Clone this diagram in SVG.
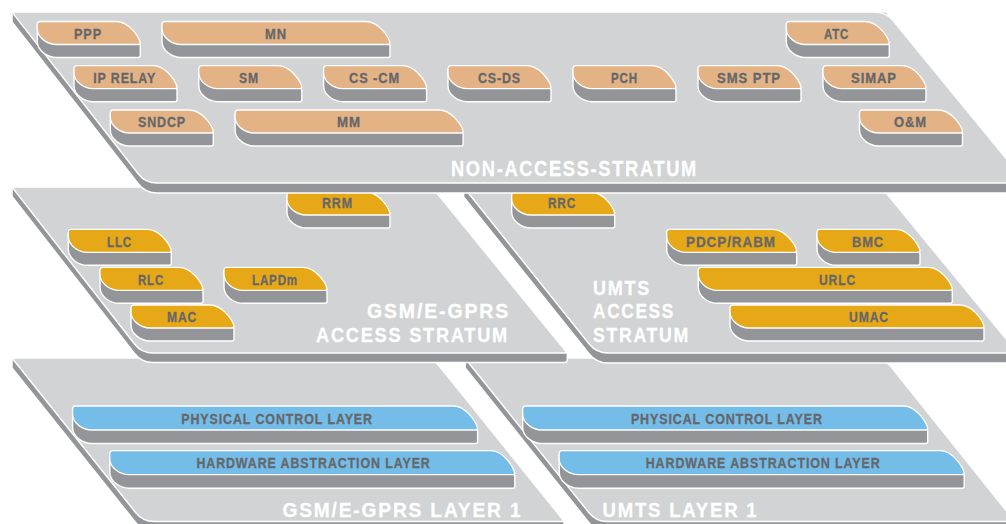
<svg xmlns="http://www.w3.org/2000/svg" xmlns:xlink="http://www.w3.org/1999/xlink" width="1006" height="524" viewBox="0 0 1006 524">
<style>
.pf{fill:#d1d3d4;stroke:#fff;stroke-width:1.5}
.pd{fill:#939598;stroke:#fff;stroke-width:1.5}
.bd{fill:#939598;stroke:#fff;stroke-width:1.4}
.tan{fill:#e3b385;stroke:#fff;stroke-width:1.3}
.gold{fill:#e6a817;stroke:#fff;stroke-width:1.3}
.blue{fill:#74bde9;stroke:#fff;stroke-width:1.3}
.bl{font-family:"Liberation Sans",Arial,sans-serif;font-weight:bold;font-size:14px;fill:#66676a;stroke:#66676a;stroke-width:0.3;letter-spacing:1px}
.pl{font-family:"Liberation Sans",Arial,sans-serif;font-weight:bold;font-size:21px;fill:#fff;stroke:#fff;stroke-width:0.3;letter-spacing:2px}
</style>
<defs>
<path id="f103" d="M0,3 q0,-3 3,-3 h76 c12,0 22,14 24,21 q0,2 -2,2 h-82 c-9,0 -19,-7 -19,-16z"/>
<path id="d103" d="M0,3 v17 c0,9 10,16 19,16 h82 q2,0 2,-2 v-10 c-2,-7 -12,-21 -24,-21 h-76 q-3,0 -3,3z"/>
<path id="f228" d="M0,3 q0,-3 3,-3 h201 c12,0 22,14 24,21 q0,2 -2,2 h-207 c-9,0 -19,-7 -19,-16z"/>
<path id="d228" d="M0,3 v17 c0,9 10,16 19,16 h207 q2,0 2,-2 v-10 c-2,-7 -12,-21 -24,-21 h-201 q-3,0 -3,3z"/>
<path id="f130" d="M0,3 q0,-3 3,-3 h103 c12,0 22,14 24,21 q0,2 -2,2 h-109 c-9,0 -19,-7 -19,-16z"/>
<path id="d130" d="M0,3 v17 c0,9 10,16 19,16 h109 q2,0 2,-2 v-10 c-2,-7 -12,-21 -24,-21 h-103 q-3,0 -3,3z"/>
<path id="f254" d="M0,3 q0,-3 3,-3 h227 c12,0 22,14 24,21 q0,2 -2,2 h-233 c-9,0 -19,-7 -19,-16z"/>
<path id="d254" d="M0,3 v17 c0,9 10,16 19,16 h233 q2,0 2,-2 v-10 c-2,-7 -12,-21 -24,-21 h-227 q-3,0 -3,3z"/>
<path id="f405" d="M0,3 q0,-3 3,-3 h378 c12,0 22,15 24,22 q0,2 -2,2 h-384 c-9,0 -19,-7 -19,-16z"/>
<path id="d405" d="M0,3 v18.5 c0,9 10,16 19,16 h384 q2,0 2,-2 v-10.5 c-2,-7 -12,-22 -24,-22 h-378 q-3,0 -3,3z"/>
</defs>

<!-- Layer 1 plates -->
<g id="gsm-layer1">
<path class="pd" d="M12,358 V368 L135.6,522.5 Q142.8,531.5 154,531.5 H561.5 Q564,531.5 564,529 V521.5 L432.8,358 Z"/>
<path class="pf" d="M15,358 H421 Q432.8,358 439.2,366 L562.8,519.5 Q564,521.5 561.5,521.5 H154 Q142.8,521.5 135.6,512.5 L14,360.5 Q12,358 15,358 Z"/>
<text class="pl" x="282.4" y="516.7" textLength="240" lengthAdjust="spacingAndGlyphs">GSM/E-GPRS LAYER 1</text>
</g>
<g id="umts-layer1">
<path class="pd" d="M465.2,358 V368 L588.8,522.5 Q596,531.5 607,531.5 H1014.9 V521.5 L884.1,358 Z"/>
<path class="pf" d="M468.2,358 H872 Q884.1,358 890.5,366 L1014.9,521.5 H607 Q596,521.5 588.8,512.5 L466.8,360.5 Q465.2,358 468.2,358 Z"/>
<text class="pl" x="602.5" y="516.7" textLength="156" lengthAdjust="spacingAndGlyphs">UMTS LAYER 1</text>
</g>
<g id="gsm-pcl"><use href="#d405" x="72.6" y="406" class="bd"/><use href="#f405" x="72.6" y="406" class="blue"/><text class="bl" x="181.3" y="424" textLength="191.6" lengthAdjust="spacingAndGlyphs">PHYSICAL CONTROL LAYER</text></g>
<g id="gsm-hal"><use href="#d405" x="109.8" y="450.7" class="bd"/><use href="#f405" x="109.8" y="450.7" class="blue"/><text class="bl" x="196.4" y="467.7" textLength="234.3" lengthAdjust="spacingAndGlyphs">HARDWARE ABSTRACTION LAYER</text></g>
<g id="umts-pcl"><use href="#d405" x="522.7" y="406" class="bd"/><use href="#f405" x="522.7" y="406" class="blue"/><text class="bl" x="630.9" y="424" textLength="192" lengthAdjust="spacingAndGlyphs">PHYSICAL CONTROL LAYER</text></g>
<g id="umts-hal"><use href="#d405" x="559.2" y="450.7" class="bd"/><use href="#f405" x="559.2" y="450.7" class="blue"/><text class="bl" x="645.7" y="467.7" textLength="235" lengthAdjust="spacingAndGlyphs">HARDWARE ABSTRACTION LAYER</text></g>

<!-- Access stratum plates -->
<g id="gsm-as">
<path class="pd" d="M12,187 V196.5 L134.5,353.5 Q141.5,362.5 153,362.5 H564.5 Q567.3,362.5 567.3,360 V353 L432,187 Z"/>
<path class="pf" d="M15,187 H420 Q432,187 438.5,195 L565.7,351 Q567.3,353 564.5,353 H153 Q141.5,353 134.5,344 L14,189.6 Q12,187 15,187 Z"/>
<text class="pl" x="367" y="318" textLength="143" lengthAdjust="spacingAndGlyphs">GSM/E-GPRS</text>
<text class="pl" x="316" y="342" textLength="193" lengthAdjust="spacingAndGlyphs">ACCESS STRATUM</text>
</g>
<g id="umts-as">
<path class="pd" d="M463.6,187 V197 L589.2,354 Q596.4,363 608,363 H1017.6 V353 L881.4,187 Z"/>
<path class="pf" d="M466.6,187 H869.4 Q881.4,187 887.9,195 L1017.6,353 H608 Q596.4,353 589.2,344 L465.6,189.5 Q463.6,187 466.6,187 Z"/>
<text class="pl" x="593" y="295" textLength="58" lengthAdjust="spacingAndGlyphs">UMTS</text>
<text class="pl" x="593" y="318" textLength="82" lengthAdjust="spacingAndGlyphs">ACCESS</text>
<text class="pl" x="593" y="342" textLength="97" lengthAdjust="spacingAndGlyphs">STRATUM</text>
</g>
<g id="rrm"><use href="#d103" x="287" y="192" class="bd"/><use href="#f103" x="287" y="192" class="gold"/><text class="bl" x="322" y="208.3" textLength="31" lengthAdjust="spacingAndGlyphs">RRM</text></g>
<g id="llc"><use href="#d103" x="68.3" y="229.3" class="bd"/><use href="#f103" x="68.3" y="229.3" class="gold"/><text class="bl" x="107" y="246.7" textLength="25" lengthAdjust="spacingAndGlyphs">LLC</text></g>
<g id="rlc"><use href="#d103" x="100" y="267.3" class="bd"/><use href="#f103" x="100" y="267.3" class="gold"/><text class="bl" x="138" y="284.7" textLength="26" lengthAdjust="spacingAndGlyphs">RLC</text></g>
<g id="lapdm"><use href="#d103" x="224" y="267.3" class="bd"/><use href="#f103" x="224" y="267.3" class="gold"/><text class="bl" x="252" y="284.7" textLength="46" lengthAdjust="spacingAndGlyphs">LAPDm</text></g>
<g id="mac"><use href="#d103" x="131" y="305" class="bd"/><use href="#f103" x="131" y="305" class="gold"/><text class="bl" x="167" y="322.4" textLength="30" lengthAdjust="spacingAndGlyphs">MAC</text></g>
<g id="rrc"><use href="#d103" x="511.7" y="192" class="bd"/><use href="#f103" x="511.7" y="192" class="gold"/><text class="bl" x="548" y="208.3" textLength="28" lengthAdjust="spacingAndGlyphs">RRC</text></g>
<g id="pdcp"><use href="#d130" x="666.7" y="229.3" class="bd"/><use href="#f130" x="666.7" y="229.3" class="gold"/><text class="bl" x="686" y="246.7" textLength="90" lengthAdjust="spacingAndGlyphs">PDCP/RABM</text></g>
<g id="bmc"><use href="#d103" x="817" y="229.3" class="bd"/><use href="#f103" x="817" y="229.3" class="gold"/><text class="bl" x="852" y="246.7" textLength="32" lengthAdjust="spacingAndGlyphs">BMC</text></g>
<g id="urlc"><use href="#d254" x="698.3" y="267.3" class="bd"/><use href="#f254" x="698.3" y="267.3" class="gold"/><text class="bl" x="819" y="284.7" textLength="37" lengthAdjust="spacingAndGlyphs">URLC</text></g>
<g id="umac"><use href="#d254" x="730" y="305" class="bd"/><use href="#f254" x="730" y="305" class="gold"/><text class="bl" x="849" y="322.4" textLength="40" lengthAdjust="spacingAndGlyphs">UMAC</text></g>

<!-- Non-access stratum -->
<g id="nas">
<path class="pd" d="M12,12 V22 L138.4,184 Q145.4,193 157,193 H1026.2 V183 L886,12 Z"/>
<path class="pf" d="M15,12 H874 Q886,12 892.6,20 L1026.2,183 H157 Q145.4,183 138.4,174 L14,14.6 Q12,12 15,12 Z"/>
<text class="pl" x="451" y="176" style="font-size:22px" textLength="247" lengthAdjust="spacingAndGlyphs">NON-ACCESS-STRATUM</text>
</g>
<g id="ppp"><use href="#d103" x="37.3" y="21.5" class="bd"/><use href="#f103" x="37.3" y="21.5" class="tan"/><text class="bl" x="74" y="38.5" textLength="28" lengthAdjust="spacingAndGlyphs">PPP</text></g>
<g id="mn"><use href="#d228" x="162" y="21.5" class="bd"/><use href="#f228" x="162" y="21.5" class="tan"/><text class="bl" x="265" y="38.5" textLength="22" lengthAdjust="spacingAndGlyphs">MN</text></g>
<g id="atc"><use href="#d103" x="786.3" y="21.5" class="bd"/><use href="#f103" x="786.3" y="21.5" class="tan"/><text class="bl" x="824" y="38.5" textLength="25" lengthAdjust="spacingAndGlyphs">ATC</text></g>
<g id="iprelay"><use href="#d103" x="74" y="65.7" class="bd"/><use href="#f103" x="74" y="65.7" class="tan"/><text class="bl" x="93.2" y="82.7" textLength="63" lengthAdjust="spacingAndGlyphs">IP RELAY</text></g>
<g id="sm"><use href="#d103" x="198.8" y="65.7" class="bd"/><use href="#f103" x="198.8" y="65.7" class="tan"/><text class="bl" x="239" y="82.7" textLength="20" lengthAdjust="spacingAndGlyphs">SM</text></g>
<g id="cscm"><use href="#d103" x="323.6" y="65.7" class="bd"/><use href="#f103" x="323.6" y="65.7" class="tan"/><text class="bl" x="349" y="82.7" textLength="51" lengthAdjust="spacingAndGlyphs">CS -CM</text></g>
<g id="csds"><use href="#d103" x="448" y="65.7" class="bd"/><use href="#f103" x="448" y="65.7" class="tan"/><text class="bl" x="478" y="82.7" textLength="43" lengthAdjust="spacingAndGlyphs">CS-DS</text></g>
<g id="pch"><use href="#d103" x="573" y="65.7" class="bd"/><use href="#f103" x="573" y="65.7" class="tan"/><text class="bl" x="611" y="82.7" textLength="27" lengthAdjust="spacingAndGlyphs">PCH</text></g>
<g id="smsptp"><use href="#d103" x="698" y="65.7" class="bd"/><use href="#f103" x="698" y="65.7" class="tan"/><text class="bl" x="717" y="82.7" textLength="64" lengthAdjust="spacingAndGlyphs">SMS PTP</text></g>
<g id="simap"><use href="#d103" x="823" y="65.7" class="bd"/><use href="#f103" x="823" y="65.7" class="tan"/><text class="bl" x="851" y="82.7" textLength="46" lengthAdjust="spacingAndGlyphs">SIMAP</text></g>
<g id="sndcp"><use href="#d103" x="110.3" y="110" class="bd"/><use href="#f103" x="110.3" y="110" class="tan"/><text class="bl" x="138" y="127.3" textLength="48" lengthAdjust="spacingAndGlyphs">SNDCP</text></g>
<g id="mm"><use href="#d228" x="235.1" y="110" class="bd"/><use href="#f228" x="235.1" y="110" class="tan"/><text class="bl" x="337" y="127.3" textLength="24" lengthAdjust="spacingAndGlyphs">MM</text></g>
<g id="om"><use href="#d103" x="859.5" y="110" class="bd"/><use href="#f103" x="859.5" y="110" class="tan"/><text class="bl" x="894" y="127.3" textLength="33" lengthAdjust="spacingAndGlyphs">O&amp;M</text></g>
<g id="connectors"/>
</svg>
